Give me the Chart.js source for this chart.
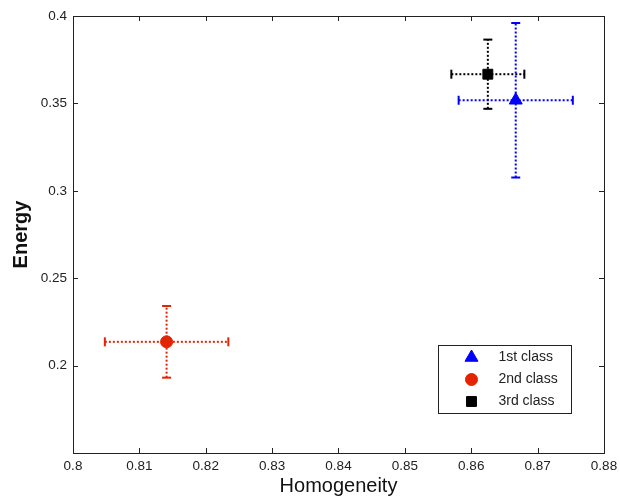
<!DOCTYPE html>
<html>
<head>
<meta charset="utf-8">
<script src="https://cdn.jsdelivr.net/npm/chart.js@4.4.1/dist/chart.umd.min.js"></script>
<style>
  html, body { margin: 0; padding: 0; background: #fff; }
  #wrap { width: 620px; height: 500px; }
</style>
</head>
<body>
<div id="wrap"><canvas id="grafico" width="620" height="500"></canvas></div>
<script>
// datos
const clases = ['1st class', '2nd class', '3rd class'];
const homogeneity = [0.8667, 0.8141, 0.8625];
const energy = [0.3518, 0.2136, 0.3667];
const homogeneityErr = [0.0086, 0.0093, 0.0055];
const energyErr = [0.0442, 0.0205, 0.0198];
const xTicks = [0.8, 0.81, 0.82, 0.83, 0.84, 0.85, 0.86, 0.87, 0.88];
const yTicks = [0.2, 0.25, 0.3, 0.35, 0.4];

// estilos
const colores = ['#0000ff', '#e22400', '#000000'];
const marcadores = ['triangle', 'circle', 'rect'];
const radios = [7.5, 6, 7];
const FONT = "'Liberation Sans', Arial, sans-serif";

// puntos
const datasets = clases.map((nombre, i) => ({
    label: nombre,
    data: [{ x: homogeneity[i], y: energy[i] }],
    pointStyle: marcadores[i],
    pointRadius: radios[i],
    pointHoverRadius: radios[i],
    backgroundColor: colores[i],
    borderColor: colores[i],
    borderWidth: 1,
    order: 0
}));

// barras de error (lineas punteadas con topes)
clases.forEach((nombre, i) => {
    const base = {
        showLine: true,
        borderColor: colores[i],
        backgroundColor: colores[i],
        borderWidth: 2,
        borderDash: [2, 2],
        pointStyle: 'line',
        pointRadius: 4.5,
        pointHoverRadius: 4.5,
        pointBorderWidth: 2,
        pointBorderColor: colores[i],
        order: 1
    };
    datasets.push({
        ...base,
        label: nombre + ' x',
        pointRotation: 90,
        data: [
            { x: homogeneity[i] - homogeneityErr[i], y: energy[i] },
            { x: homogeneity[i] + homogeneityErr[i], y: energy[i] }
        ]
    });
    datasets.push({
        ...base,
        label: nombre + ' y',
        pointRotation: 0,
        data: [
            { x: homogeneity[i], y: energy[i] - energyErr[i] },
            { x: homogeneity[i], y: energy[i] + energyErr[i] }
        ]
    });
});

// marco y ticks hacia adentro
const marcoPlugin = {
    id: 'marco',
    afterDraw(chart) {
        const { ctx, chartArea: a, scales } = chart;
        ctx.save();
        ctx.strokeStyle = '#222';
        ctx.lineWidth = 1;
        ctx.beginPath();
        scales.x.ticks.forEach(t => {
            const px = Math.round(scales.x.getPixelForValue(t.value)) + 0.5;
            ctx.moveTo(px, a.bottom); ctx.lineTo(px, a.bottom - 5);
            ctx.moveTo(px, a.top); ctx.lineTo(px, a.top + 5);
        });
        scales.y.ticks.forEach(t => {
            const py = Math.round(scales.y.getPixelForValue(t.value)) + 0.5;
            ctx.moveTo(a.left, py); ctx.lineTo(a.left + 5, py);
            ctx.moveTo(a.right, py); ctx.lineTo(a.right - 5, py);
        });
        ctx.stroke();
        ctx.strokeRect(Math.round(a.left) + 0.5, Math.round(a.top) + 0.5,
            Math.round(a.right - a.left), Math.round(a.bottom - a.top));
        ctx.restore();
    }
};

// leyenda dentro del area
const leyendaPlugin = {
    id: 'leyenda',
    afterDraw(chart) {
        const { ctx, chartArea: a } = chart;
        const w = 133, h = 68;
        const x0 = Math.round(a.right - 33 - w) + 0.5;
        const y0 = Math.round(a.bottom - 40 - h) + 0.5;
        ctx.save();
        ctx.fillStyle = '#fff';
        ctx.fillRect(x0, y0, w, h);
        ctx.strokeStyle = '#222';
        ctx.lineWidth = 1;
        ctx.strokeRect(x0, y0, w, h);
        ctx.font = '14px ' + FONT;
        ctx.textBaseline = 'middle';
        clases.forEach((nombre, i) => {
            const cy = y0 + 12 + i * 22;
            ctx.fillStyle = colores[i];
            ctx.strokeStyle = colores[i];
            Chart.helpers.drawPoint(ctx, {
                pointStyle: marcadores[i],
                radius: radios[i],
                rotation: 0,
                borderWidth: 1
            }, x0 + 33, cy);
            ctx.fillStyle = '#222';
            ctx.fillText(nombre, x0 + 60, cy);
        });
        ctx.restore();
    }
};

new Chart(document.getElementById('grafico'), {
    type: 'scatter',
    data: { datasets },
    options: {
        responsive: false,
        animation: false,
        layout: { padding: { top: 16, right: 16, left: 0, bottom: 0 } },
        plugins: {
            legend: { display: false },
            tooltip: { enabled: false }
        },
        scales: {
            x: {
                type: 'linear',
                min: 0.8,
                max: 0.88,
                afterBuildTicks: axis => { axis.ticks = xTicks.map(v => ({ value: v })); },
                afterFit: s => { s.height = 47; },
                grid: { display: false },
                border: { display: false },
                ticks: {
                    padding: -3,
                    color: '#222',
                    font: { family: FONT, size: 13.5 },
                    callback: v => String(+v.toFixed(2))
                },
                title: {
                    display: true,
                    text: 'Homogeneity',
                    color: '#111',
                    font: { family: FONT, size: 20 },
                    padding: { top: 0, bottom: 2 }
                }
            },
            y: {
                type: 'linear',
                min: 0.15,
                max: 0.4,
                afterBuildTicks: axis => { axis.ticks = yTicks.map(v => ({ value: v })); },
                afterFit: s => { s.width = 73; },
                grid: { display: false },
                border: { display: false },
                ticks: {
                    padding: -2,
                    color: '#222',
                    font: { family: FONT, size: 13.5 },
                    callback: v => String(+v.toFixed(2))
                },
                title: {
                    display: true,
                    text: 'Energy',
                    color: '#111',
                    font: { family: FONT, size: 20, weight: 'bold' },
                    padding: { top: 9, bottom: 0 }
                }
            }
        }
    },
    plugins: [marcoPlugin, leyendaPlugin]
});
</script>
</body>
</html>
